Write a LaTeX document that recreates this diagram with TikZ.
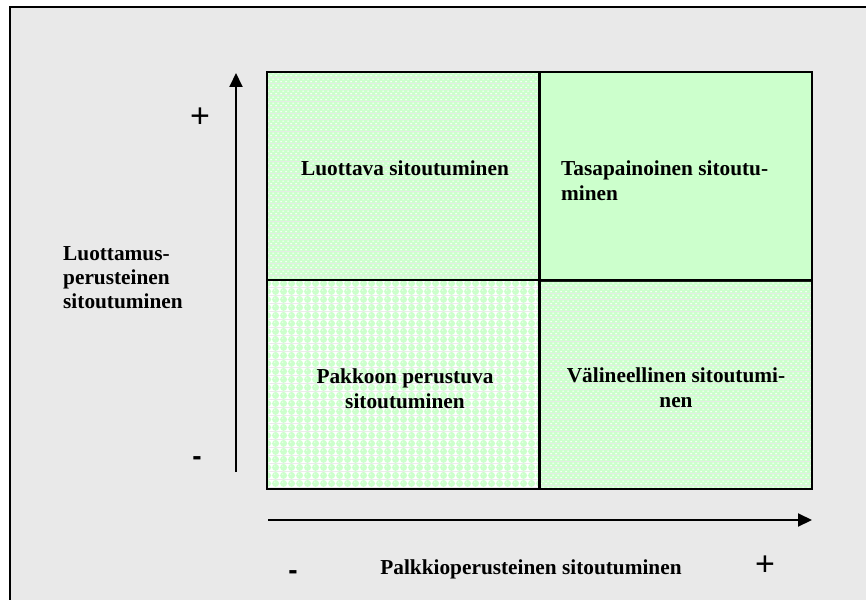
\documentclass[tikz,border=0pt]{standalone}
\usepackage{fontspec}
\setmainfont{Liberation Serif}
\newfontfamily\signfont{Liberation Sans}
\usetikzlibrary{arrows.meta,patterns}

\definecolor{cellgreen}{HTML}{CCFFCC}
\definecolor{panelgray}{HTML}{E9E9E9}

% fine texture: light green with small white dashes in staggered rows
\pgfdeclarepatterninherentlycolored{finedots}{\pgfpointorigin}{\pgfpoint{5pt}{6pt}}{\pgfpoint{5pt}{6pt}}{%
  \pgfsetfillcolor{cellgreen}%
  \pgfpathrectangle{\pgfpointorigin}{\pgfpoint{5pt}{6pt}}\pgfusepath{fill}%
  \pgfsetfillcolor{white}%
  \pgfpathellipse{\pgfpoint{1.25pt}{1.5pt}}{\pgfpoint{1.3pt}{0pt}}{\pgfpoint{0pt}{0.7pt}}%
  \pgfpathellipse{\pgfpoint{3.75pt}{4.5pt}}{\pgfpoint{1.3pt}{0pt}}{\pgfpoint{0pt}{0.7pt}}%
  \pgfusepath{fill}%
}

% coarse texture: green balls on a white ground
\pgfdeclarepatterninherentlycolored{balls}{\pgfpointorigin}{\pgfpoint{8pt}{8pt}}{\pgfpoint{8pt}{8pt}}{%
  \pgfsetfillcolor{white}%
  \pgfpathrectangle{\pgfpointorigin}{\pgfpoint{8pt}{8pt}}\pgfusepath{fill}%
  \pgfsetfillcolor{cellgreen}%
  \pgfpathcircle{\pgfpoint{4pt}{4pt}}{3.9pt}%
  \pgfusepath{fill}%
  \pgfsetfillcolor{white!55!cellgreen}%
  \pgfpathcircle{\pgfpoint{3pt}{5.2pt}}{0.9pt}%
  \pgfusepath{fill}%
}

\tikzset{
  quad/.style={draw=black, line width=2pt, minimum width=272pt, minimum height=209pt,
    inner sep=0pt, outer sep=0pt},
  qtext/.style={font=\fontsize{21.3}{25}\selectfont\bfseries, inner sep=0pt},
  axislabel/.style={font=\fontsize{21.3}{24}\selectfont\bfseries, inner sep=0pt},
  sign/.style={font=\signfont\fontsize{34}{36}\selectfont, inner sep=0pt},
  minus/.style={font=\signfont\bfseries\fontsize{28}{30}\selectfont, inner sep=0pt},
  axis/.style={line width=2pt, -{Triangle[width=13pt,length=14pt]}}
}

\begin{document}
\begin{tikzpicture}[x=1pt, y=-1pt]
  \useasboundingbox (0,0) rectangle (866,599);
  \clip (0,0) rectangle (866,599);

  % panel
  \fill[white] (0,0) rectangle (866,599);
  \fill[panelgray] (10,7) rectangle (880,610);
  \draw[line width=2pt] (10,610) -- (10,7) -- (880,7);

  % four quadrants
  \node[quad, pattern=finedots] (tl) at (403,176.5) {};
  \node[quad, fill=cellgreen]   (tr) at (675.5,176.5) {};
  \node[quad, pattern=balls]    (bl) at (403,384.5) {};
  \node[quad, pattern=finedots] (br) at (675.5,384.5) {};

  \node[qtext] (tlt) at (405,168) {Luottava sitoutuminen};
  \node[qtext, align=left, anchor=west] (trt) at (561,180.5) {Tasapainoinen sitoutu-\\minen};
  \node[qtext, align=center] (blt) at (405,389) {Pakkoon perustuva\\sitoutuminen};
  \node[qtext, align=center] (brt) at (676,388) {Välineellinen sitoutumi-\\nen};

  % axes
  \coordinate (ybot) at (236,472);
  \coordinate (ytop) at (236,73);
  \coordinate (xleft) at (268,520);
  \coordinate (xright) at (812,520);
  \draw[axis] (ybot) -- (ytop);
  \draw[axis] (xleft) -- (xright);

  % axis labels and signs
  \node[axislabel, align=left, anchor=west] (ylab) at (63,278) {Luottamus-\\perusteinen\\sitoutuminen};
  \node[axislabel] (xlab) at (531,569) {Palkkioperusteinen sitoutuminen};
  \node[sign] (yplus) at (200,118) {+};
  \node[minus] (yminus) at (197,461) {-};
  \node[minus] (xminus) at (293,575) {-};
  \node[sign] (xplus) at (765,566) {+};
\end{tikzpicture}
\end{document}
